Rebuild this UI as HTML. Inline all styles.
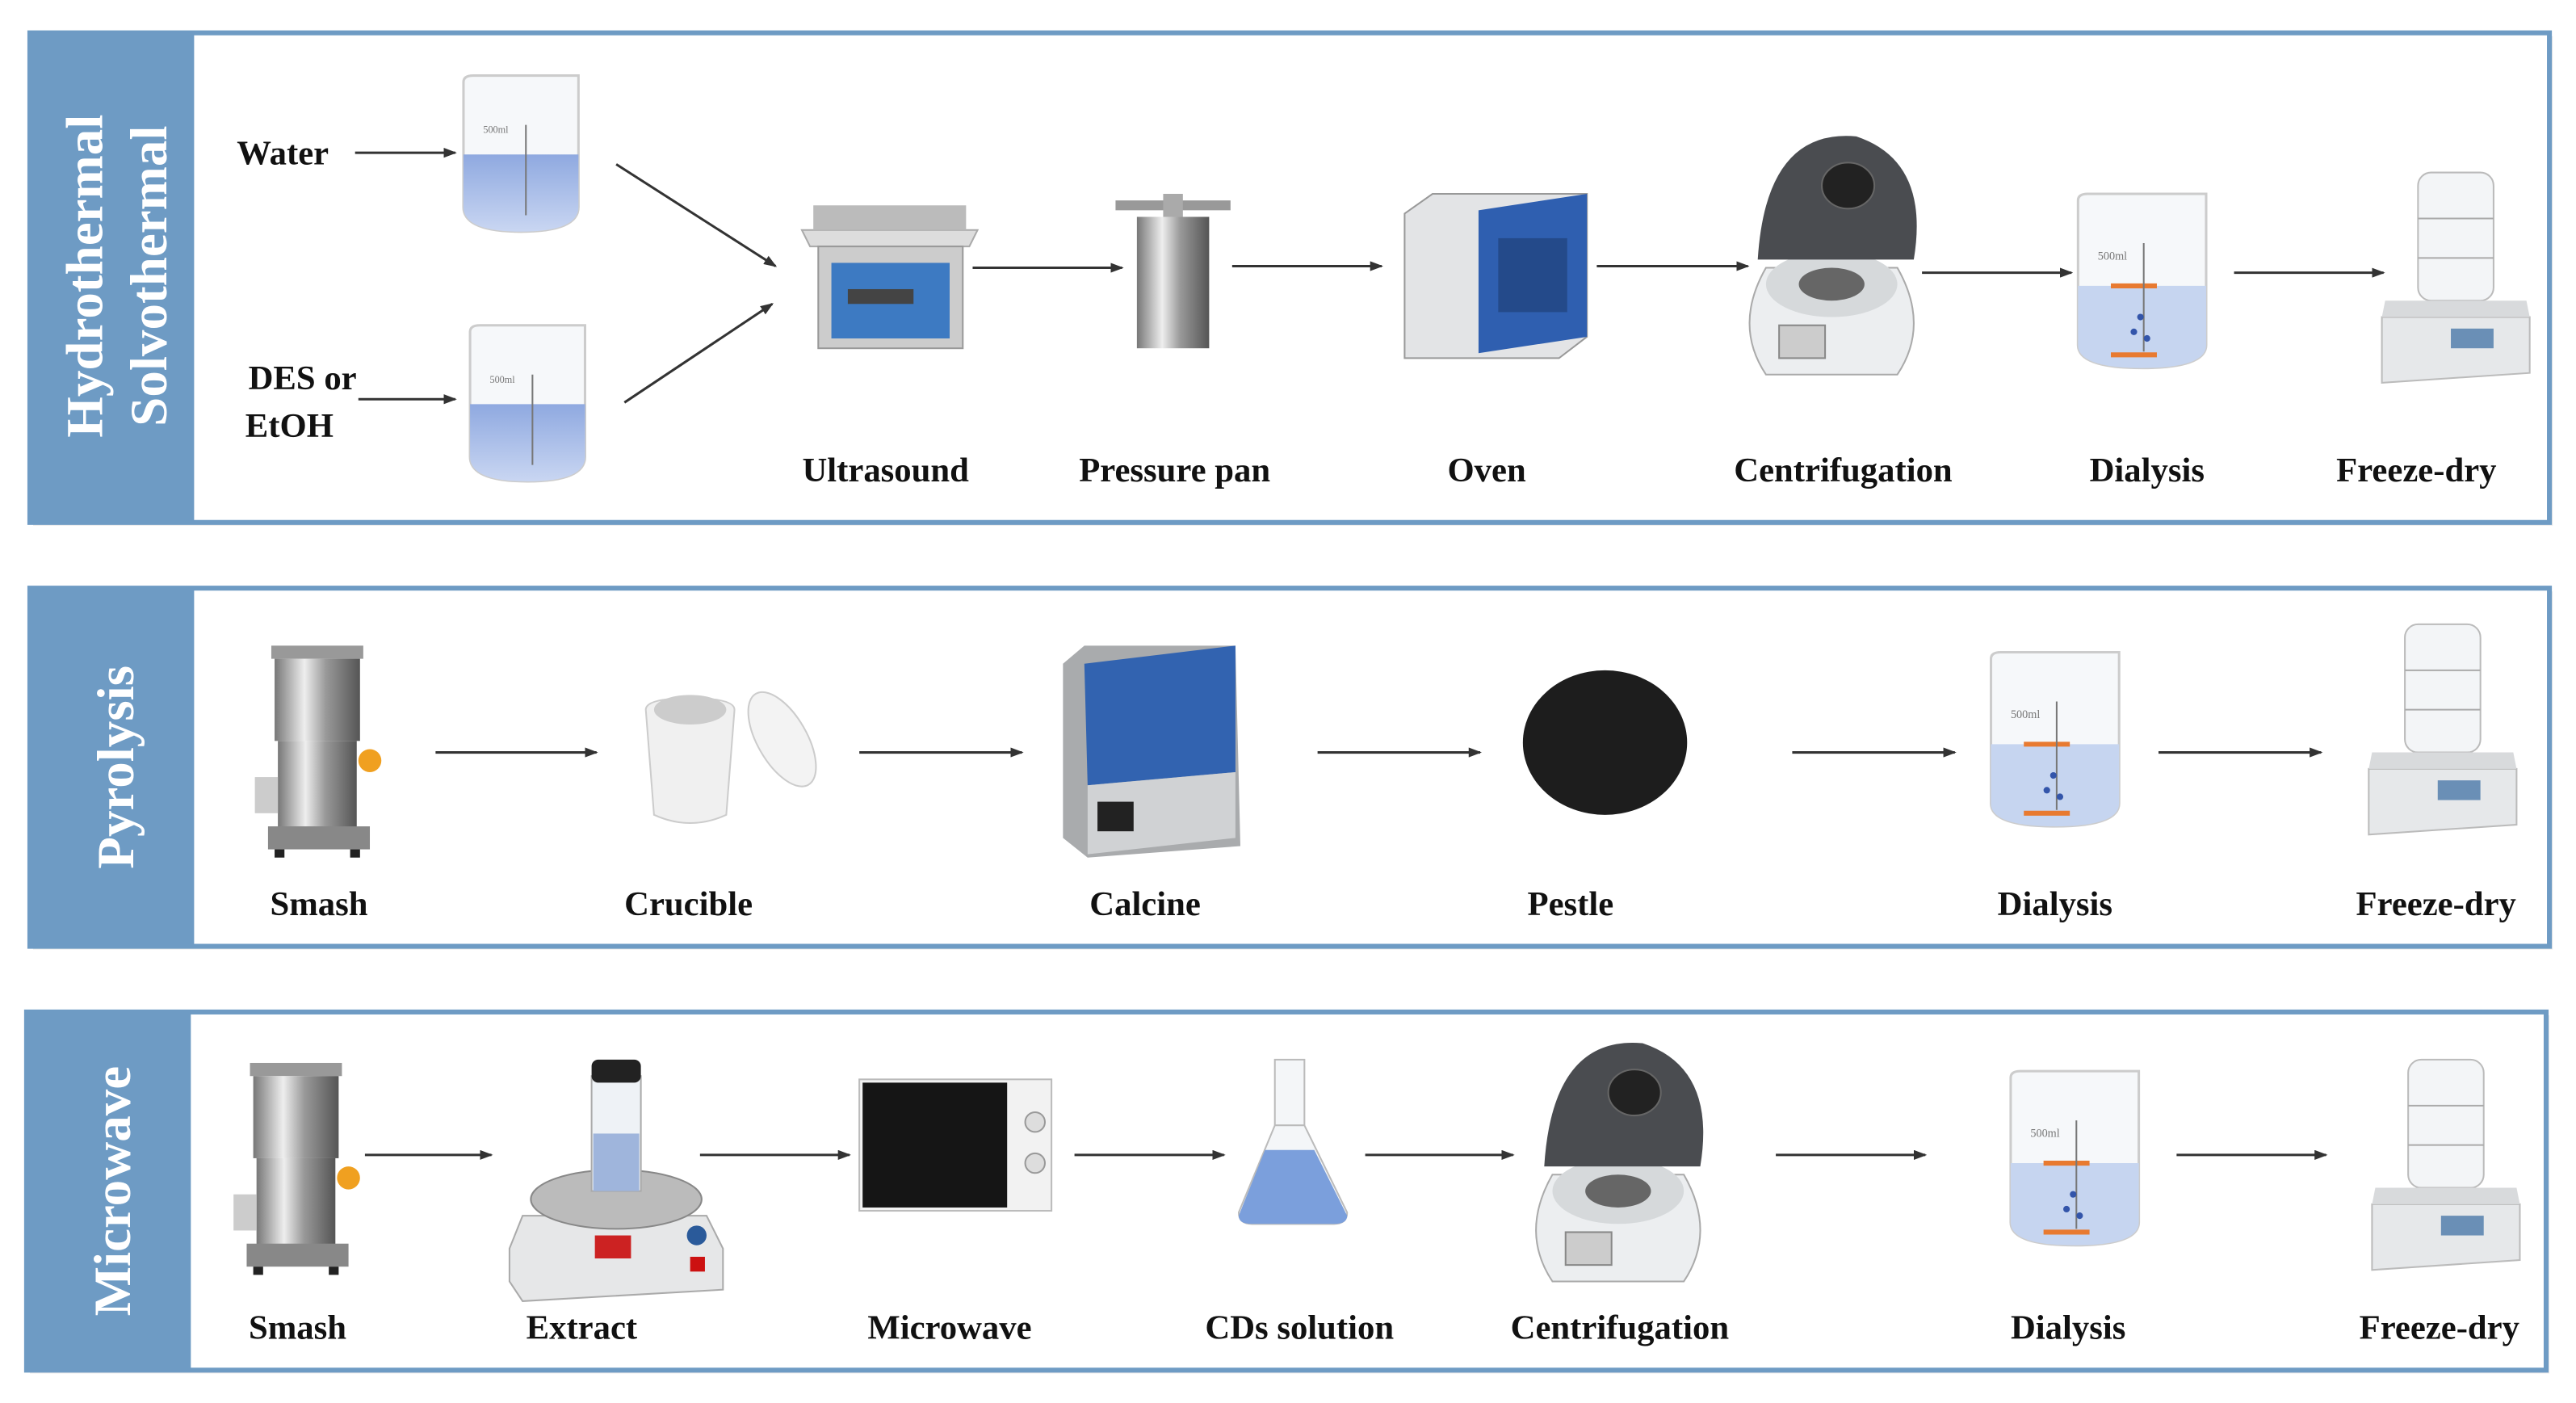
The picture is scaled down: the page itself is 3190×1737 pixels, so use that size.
<!DOCTYPE html>
<html><head><meta charset="utf-8"><style>
html,body{margin:0;padding:0;background:#fff;}
svg{display:block;}
text{font-family:"Liberation Serif",serif;font-weight:bold;fill:#111;}
</style></head><body>
<svg width="3190" height="1737" viewBox="0 0 1568 854" xmlns="http://www.w3.org/2000/svg">
<defs>
<marker id="ah" markerWidth="8" markerHeight="6" refX="7" refY="3" orient="auto" markerUnits="userSpaceOnUse"><path d="M0,0 L8,3 L0,6 z" fill="#333"/></marker>
<linearGradient id="metal" x1="0" x2="1"><stop offset="0" stop-color="#777"/><stop offset=".35" stop-color="#eee"/><stop offset=".6" stop-color="#999"/><stop offset="1" stop-color="#555"/></linearGradient>
<linearGradient id="liq" x1="0" y1="0" x2="0" y2="1"><stop offset="0" stop-color="#8fa9e0"/><stop offset="1" stop-color="#c9d6f2"/></linearGradient>
<g id="beaker">
<path d="M0,4 Q0,0 6,0 L70,0 L70,80 Q70,95 35,95 Q0,95 0,80 Z" fill="#f6f8fa" stroke="#ccc" stroke-width="1.5"/>
<path d="M0,48 L70,48 L70,80 Q70,95 35,95 Q0,95 0,80 Z" fill="url(#liq)"/>
<line x1="38" y1="30" x2="38" y2="85" stroke="#777" stroke-width="1"/>
<text x="12" y="35" style="font-size:6px;font-weight:normal;fill:#777">500ml</text>
</g>
<g id="dial">
<path d="M0,4 Q0,0 6,0 L78,0 L78,92 Q78,106 39,106 Q0,106 0,92 Z" fill="#f6f8fa" stroke="#ccc" stroke-width="1.5"/>
<path d="M0,56 L78,56 L78,92 Q78,106 39,106 Q0,106 0,92 Z" fill="#c6d5f0"/>
<line x1="20" y1="56" x2="48" y2="56" stroke="#e87a30" stroke-width="3"/>
<line x1="20" y1="98" x2="48" y2="98" stroke="#e87a30" stroke-width="3"/>
<line x1="40" y1="30" x2="40" y2="96" stroke="#777"/>
<circle cx="38" cy="75" r="2" fill="#3355aa"/><circle cx="34" cy="84" r="2" fill="#3355aa"/><circle cx="42" cy="88" r="2" fill="#3355aa"/>
<text x="12" y="40" style="font-size:7px;font-weight:normal;fill:#777">500ml</text>
</g>
<g id="freeze">
<rect x="22" y="0" width="46" height="78" rx="8" fill="#f3f5f7" stroke="#bbb"/>
<line x1="22" y1="28" x2="68" y2="28" stroke="#aaa"/><line x1="22" y1="52" x2="68" y2="52" stroke="#aaa"/>
<path d="M0,88 L90,88 L90,122 L0,128 Z" fill="#e6e8ea" stroke="#bbb"/>
<path d="M2,78 L88,78 L90,88 L0,88 Z" fill="#d8dadc"/>
<rect x="42" y="95" width="26" height="12" fill="#6a8fb6"/>
</g>
<g id="grinder">
<rect x="10" y="0" width="56" height="8" fill="#999"/>
<rect x="12" y="8" width="52" height="50" fill="url(#metal)"/>
<rect x="14" y="58" width="48" height="55" fill="url(#metal)"/>
<circle cx="70" cy="70" r="7" fill="#f0a020"/>
<rect x="0" y="80" width="14" height="22" fill="#ccc"/>
<rect x="8" y="110" width="62" height="14" fill="#888"/>
<rect x="12" y="124" width="6" height="5" fill="#222"/><rect x="58" y="124" width="6" height="5" fill="#222"/>
</g>
<g id="centri">
<path d="M20,85 Q0,120 20,150 L100,150 Q120,120 100,85 Z" fill="#eceef0" stroke="#aaa"/>
<ellipse cx="60" cy="95" rx="40" ry="20" fill="#d6d9db"/>
<ellipse cx="60" cy="95" rx="20" ry="10" fill="#666"/>
<path d="M15,80 Q20,0 75,5 Q120,20 110,80 Z" fill="#4a4c50"/>
<ellipse cx="70" cy="35" rx="16" ry="14" fill="#222" stroke="#666"/>
<rect x="28" y="120" width="28" height="20" fill="#ccc" stroke="#888"/>
</g>
</defs>

<g>
<rect x="20" y="22" width="1534" height="298" fill="#bbb" opacity=".3"/>
<rect x="18" y="20" width="1534" height="298" fill="#fff" stroke="#6e9bc4" stroke-width="3"/>
<rect x="18" y="20" width="100" height="298" fill="#6e9bc4"/>
<rect x="20" y="360" width="1534" height="218" fill="#bbb" opacity=".3"/>
<rect x="18" y="358" width="1534" height="218" fill="#fff" stroke="#6e9bc4" stroke-width="3"/>
<rect x="18" y="358" width="100" height="218" fill="#6e9bc4"/>
<rect x="18" y="618" width="1534" height="218" fill="#bbb" opacity=".3"/>
<rect x="16" y="616" width="1534" height="218" fill="#fff" stroke="#6e9bc4" stroke-width="3"/>
<rect x="16" y="616" width="100" height="218" fill="#6e9bc4"/>
</g>
<text transform="translate(62,168) rotate(-90)" text-anchor="middle" style="font-size:32px;fill:#fff">Hydrothermal</text>
<text transform="translate(101,168) rotate(-90)" text-anchor="middle" style="font-size:32px;fill:#fff">Solvothermal</text>
<text transform="translate(81,467) rotate(-90)" text-anchor="middle" style="font-size:32px;fill:#fff">Pyrolysis</text>
<text transform="translate(79,725) rotate(-90)" text-anchor="middle" style="font-size:32px;fill:#fff">Microwave</text>

<g style="font-size:21px" text-anchor="middle">
<text x="172" y="100">Water</text>
<text x="184" y="237">DES or</text>
<text x="176" y="266">EtOH</text>
<text x="539" y="293">Ultrasound</text>
<text x="715" y="293">Pressure pan</text>
<text x="905" y="293">Oven</text>
<text x="1122" y="293">Centrifugation</text>
<text x="1307" y="293">Dialysis</text>
<text x="1471" y="293">Freeze-dry</text>
<text x="194" y="557">Smash</text>
<text x="419" y="557">Crucible</text>
<text x="697" y="557">Calcine</text>
<text x="956" y="557">Pestle</text>
<text x="1251" y="557">Dialysis</text>
<text x="1483" y="557">Freeze-dry</text>
<text x="181" y="815">Smash</text>
<text x="354" y="815">Extract</text>
<text x="578" y="815">Microwave</text>
<text x="791" y="815">CDs solution</text>
<text x="986" y="815">Centrifugation</text>
<text x="1259" y="815">Dialysis</text>
<text x="1485" y="815">Freeze-dry</text>
</g>

<g stroke="#333" stroke-width="1.5" marker-end="url(#ah)">
<line x1="216" y1="93" x2="277" y2="93"/><line x1="218" y1="243" x2="277" y2="243"/>
<line x1="375" y1="100" x2="472" y2="162"/><line x1="380" y1="245" x2="470" y2="185"/>
<line x1="592" y1="163" x2="683" y2="163"/><line x1="750" y1="162" x2="841" y2="162"/>
<line x1="972" y1="162" x2="1064" y2="162"/><line x1="1170" y1="166" x2="1261" y2="166"/>
<line x1="1360" y1="166" x2="1451" y2="166"/>
<line x1="265" y1="458" x2="363" y2="458"/><line x1="523" y1="458" x2="622" y2="458"/>
<line x1="802" y1="458" x2="901" y2="458"/><line x1="1091" y1="458" x2="1190" y2="458"/>
<line x1="1314" y1="458" x2="1413" y2="458"/>
<line x1="222" y1="703" x2="299" y2="703"/><line x1="426" y1="703" x2="517" y2="703"/>
<line x1="654" y1="703" x2="745" y2="703"/><line x1="831" y1="703" x2="921" y2="703"/>
<line x1="1081" y1="703" x2="1172" y2="703"/><line x1="1325" y1="703" x2="1416" y2="703"/>
</g>

<use href="#beaker" x="282" y="46"/>
<use href="#beaker" x="286" y="198"/>
<g>
<path d="M488,140 L595,140 L590,150 L493,150 Z" fill="#ddd" stroke="#aaa"/>
<path d="M495,125 L588,125 L588,140 L495,140 Z" fill="#bbb"/>
<rect x="498" y="150" width="88" height="62" fill="#ccc" stroke="#999"/>
<rect x="506" y="160" width="72" height="46" fill="#3d7ac2"/>
<rect x="516" y="176" width="40" height="9" fill="#444"/>
</g>
<g>
<rect x="679" y="122" width="70" height="6" fill="#999"/>
<rect x="708" y="118" width="12" height="14" fill="#aaa"/>
<rect x="692" y="132" width="44" height="80" fill="url(#metal)"/>
</g>
<g>
<path d="M855,130 L872,118 L966,118 L966,205 L949,218 L855,218 Z" fill="#e3e4e6" stroke="#999"/>
<path d="M900,128 L966,118 L966,205 L900,215 Z" fill="#2f5fb0"/>
<rect x="912" y="145" width="42" height="45" fill="#244a8a"/>
</g>
<use href="#centri" x="1055" y="78"/>
<use href="#dial" x="1265" y="118"/>
<use href="#freeze" x="1450" y="105"/>

<use href="#grinder" x="155" y="393"/>
<g>
<path d="M393,432 Q393,425 420,425 Q447,425 447,432 L442,496 Q420,506 398,496 Z" fill="#f0f0f0" stroke="#ccc"/>
<ellipse cx="420" cy="432" rx="22" ry="9" fill="#ccc"/>
<ellipse cx="476" cy="450" rx="15" ry="32" transform="rotate(-30 476 450)" fill="#f3f3f3" stroke="#ccc"/>
</g>
<g>
<path d="M647,404 L660,393 L752,393 L755,515 L662,522 L647,510 Z" fill="#a9abad"/>
<path d="M660,404 L752,393 L752,470 L662,478 Z" fill="#3263b0"/>
<path d="M662,478 L752,470 L752,510 L662,520 Z" fill="#d0d2d4"/>
<rect x="668" y="488" width="22" height="18" fill="#222"/>
</g>
<ellipse cx="977" cy="452" rx="50" ry="44" fill="#1d1d1d"/>
<use href="#dial" x="1212" y="397"/>
<use href="#freeze" x="1442" y="380"/>

<use href="#grinder" x="142" y="647"/>
<g>
<path d="M310,760 L318,740 L430,740 L440,760 L440,785 L318,792 L310,780 Z" fill="#e6e7e8" stroke="#aaa"/>
<ellipse cx="375" cy="730" rx="52" ry="18" fill="#bbb" stroke="#888"/>
<rect x="360" y="655" width="30" height="70" fill="#eef2f6" stroke="#aaa"/>
<rect x="361" y="690" width="28" height="35" fill="#9fb5dc"/>
<rect x="360" y="645" width="30" height="14" rx="4" fill="#222"/>
<rect x="362" y="752" width="22" height="14" fill="#c22"/>
<circle cx="424" cy="752" r="6" fill="#2a5a9a"/>
<rect x="420" y="765" width="9" height="9" fill="#c11"/>
</g>
<g>
<rect x="523" y="657" width="117" height="80" fill="#f2f2f2" stroke="#bbb"/>
<rect x="525" y="659" width="88" height="76" fill="#151515"/>
<circle cx="630" cy="683" r="6" fill="#ddd" stroke="#999"/><circle cx="630" cy="708" r="6" fill="#ddd" stroke="#999"/>
</g>
<g>
<rect x="776" y="645" width="18" height="40" fill="#f4f6f8" stroke="#bbb"/>
<path d="M776,685 L754,738 Q754,745 762,745 L812,745 Q820,745 820,738 L794,685 Z" fill="#f4f6f8" stroke="#bbb"/>
<path d="M770,700 L800,700 L820,740 Q820,745 812,745 L762,745 Q754,745 754,740 Z" fill="#7b9fdc"/>
</g>
<use href="#centri" x="925" y="630"/>
<use href="#dial" x="1224" y="652"/>
<use href="#freeze" x="1444" y="645"/>
</svg>
</body></html>
